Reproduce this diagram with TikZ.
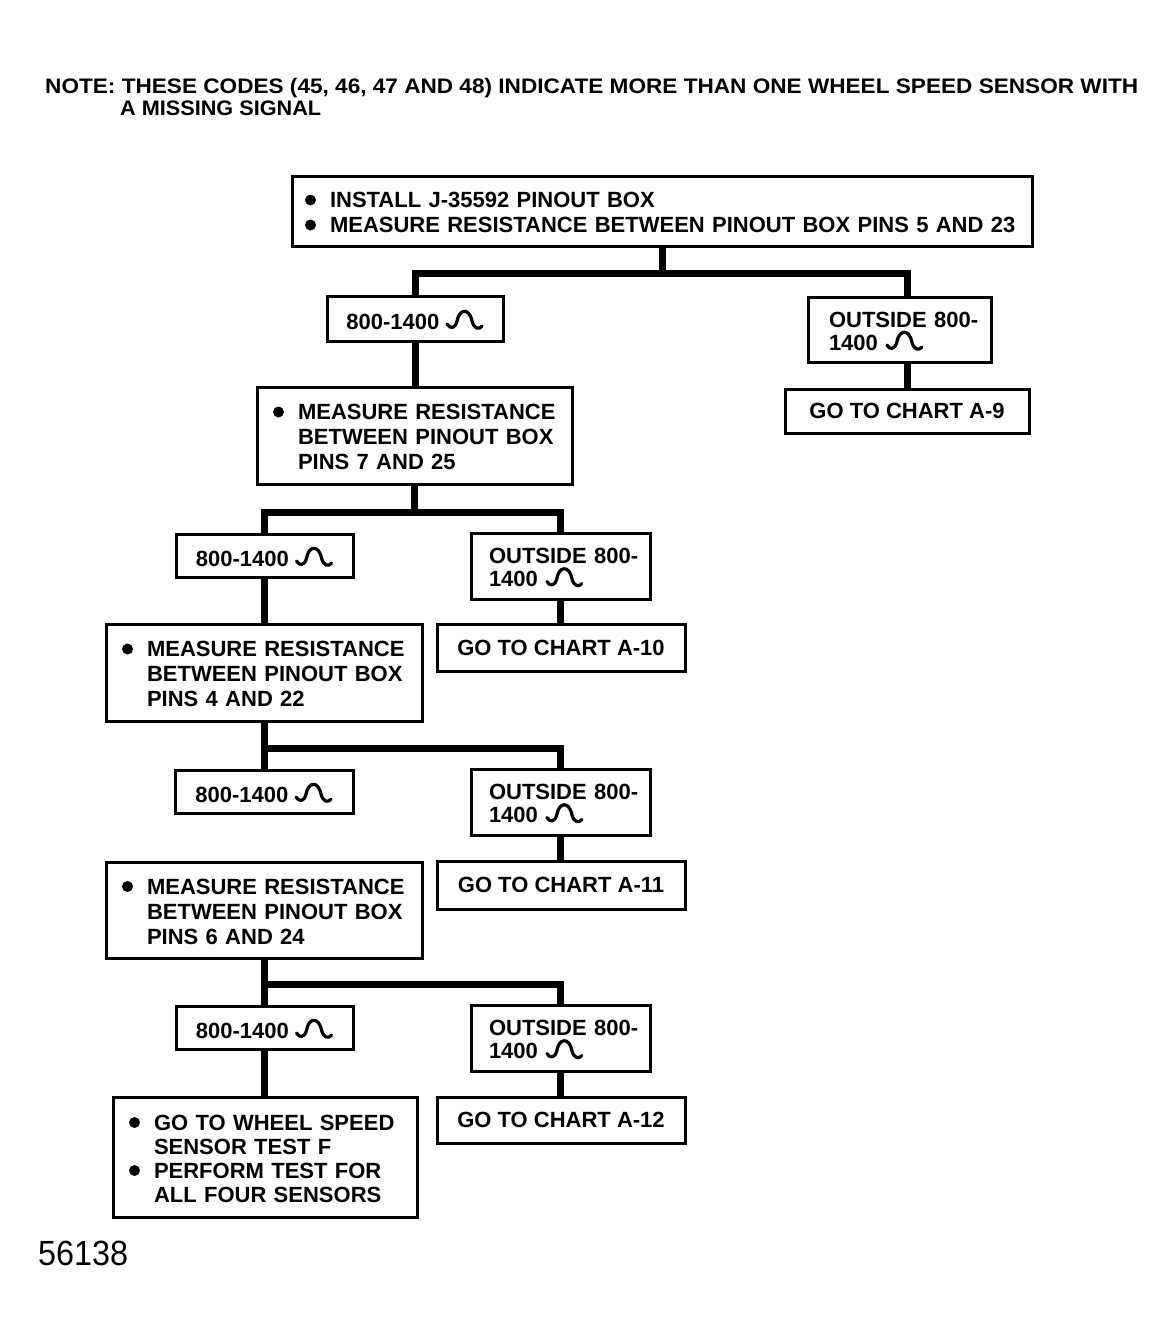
\documentclass[tikz,border=0pt]{standalone}
\usepackage{fontspec}
\setmainfont{Liberation Sans}
\usepackage{graphicx}
\newcommand\ohmwave{\smash{\tikz[baseline=0pt,x=1pt,y=1pt,line width=3.2pt,line cap=round,line join=round]\draw (0,5) .. controls (3,0) and (8,0) .. (10,8) .. controls (12,20) and (22,22) .. (25,8) .. controls (27,0) and (32,-1) .. (35,3);}}
\newcommand\bul{\tikz[baseline=0pt,x=1pt,y=1pt]\fill (5.5,7.5) circle[radius=5.5pt];}
\newcommand\dn[2][-4pt]{\raisebox{#1}[\height][\depth]{#2}}
\tikzset{
  box/.style={draw, line width=3pt, rectangle, inner sep=0pt, font=\fontsize{22}{25}\selectfont\bfseries},
  conn/.style={line width=7pt, line cap=butt, line join=miter},
  notefont/.style={font=\fontsize{21}{25}\selectfont\bfseries, inner sep=0pt},
}
\begin{document}
\begin{tikzpicture}[x=1pt,y=-1pt]
\useasboundingbox (0,0) rectangle (1175,1341);
\fill[white] (0,0) rectangle (1175,1341);
% note
\node[notefont, anchor=base west] (n1) at (45,93) {\resizebox{1093pt}{\height}{NOTE: THESE CODES (45, 46, 47 AND 48) INDICATE MORE THAN ONE WHEEL SPEED SENSOR WITH}};
\node[notefont, anchor=base west] (n2) at (120,115) {\resizebox{201pt}{\height}{A MISSING SIGNAL}};
% top
\node[box, minimum width=740pt, minimum height=70pt, text width=714pt, align=left] (top) at (662,211)
 {\dn{\begin{tabular}{@{}l@{\hspace{14pt}}l@{}}\bul & INSTALL J-35592 PINOUT BOX\\ \bul & MEASURE RESISTANCE BETWEEN PINOUT BOX PINS 5 AND 23\end{tabular}}};
\node[box, minimum width=176pt, minimum height=45pt] (b1) at (415,318.5) {\dn[-3pt]{800-1400 \ohmwave}};
\node[box, minimum width=183pt, minimum height=65pt, text width=141pt, align=left] (o1) at (899.5,329.5)
 {\dn{\begin{tabular}{@{}l@{}}OUTSIDE 800-\\[-2pt] 1400 \ohmwave\end{tabular}}};
\node[box, minimum width=244pt, minimum height=44pt] (g1) at (907,411) {GO TO CHART A-9};
\node[box, minimum width=315pt, minimum height=97pt, text width=283pt, align=left] (m1) at (414.5,435.5)
 {\dn{\begin{tabular}{@{}l@{\hspace{14pt}}l@{}}\bul & MEASURE RESISTANCE\\ & BETWEEN PINOUT BOX\\ & PINS 7 AND 25\end{tabular}}};
% level 2
\node[box, minimum width=177pt, minimum height=43pt] (b2) at (264.5,555.5) {\dn[-3pt]{800-1400 \ohmwave}};
\node[box, minimum width=179pt, minimum height=66pt, text width=143pt, align=left] (o2) at (560.5,566)
 {\dn{\begin{tabular}{@{}l@{}}OUTSIDE 800-\\[-2pt] 1400 \ohmwave\end{tabular}}};
\node[box, minimum width=248pt, minimum height=47pt] (g2) at (561,647.5) {GO TO CHART A-10};
\node[box, minimum width=316pt, minimum height=97pt, text width=284pt, align=left] (m2) at (264,672.5)
 {\dn{\begin{tabular}{@{}l@{\hspace{14pt}}l@{}}\bul & MEASURE RESISTANCE\\ & BETWEEN PINOUT BOX\\ & PINS 4 AND 22\end{tabular}}};
% level 3
\node[box, minimum width=178pt, minimum height=43pt] (b3) at (264,791.5) {\dn[-3pt]{800-1400 \ohmwave}};
\node[box, minimum width=179pt, minimum height=66pt, text width=143pt, align=left] (o3) at (560.5,802)
 {\dn{\begin{tabular}{@{}l@{}}OUTSIDE 800-\\[-2pt] 1400 \ohmwave\end{tabular}}};
\node[box, minimum width=248pt, minimum height=48pt] (g3) at (561,885) {GO TO CHART A-11};
\node[box, minimum width=316pt, minimum height=96pt, text width=284pt, align=left] (m3) at (264,910)
 {\dn{\begin{tabular}{@{}l@{\hspace{14pt}}l@{}}\bul & MEASURE RESISTANCE\\ & BETWEEN PINOUT BOX\\ & PINS 6 AND 24\end{tabular}}};
% level 4
\node[box, minimum width=177pt, minimum height=43pt] (b4) at (264.5,1027.5) {\dn[-3pt]{800-1400 \ohmwave}};
\node[box, minimum width=179pt, minimum height=66pt, text width=143pt, align=left] (o4) at (560.5,1038)
 {\dn{\begin{tabular}{@{}l@{}}OUTSIDE 800-\\[-2pt] 1400 \ohmwave\end{tabular}}};
\node[box, minimum width=248pt, minimum height=46pt] (g4) at (561,1120) {GO TO CHART A-12};
\node[box, minimum width=304pt, minimum height=120pt, text width=272pt, align=left] (f) at (265,1157)
 {\dn{\begin{tabular}{@{}l@{\hspace{14pt}}l@{}}\bul & GO TO WHEEL SPEED\\[-1pt] & SENSOR TEST F\\[-1pt] \bul & PERFORM TEST FOR\\[-1pt] & ALL FOUR SENSORS\end{tabular}}};
% figure number
\node[font=\fontsize{35}{40}\selectfont, inner sep=0pt, anchor=base west] (fig) at (38,1265) {\resizebox{90pt}{\height}{56138}};
% connectors
\draw[conn] (top.south) -- ++(0,26) coordinate (j1);
\draw[conn] (b1.north) |- (g1.north |- j1) -- (g1.north |- o1.north);
\draw[conn] (b1.south) -- (b1.south |- m1.north);
\draw[conn] (g1.north |- o1.south) -- (g1.north);
\draw[conn] (m1.south) -- ++(0,27) coordinate (j2);
\draw[conn] (b2.north) |- (o2.north |- j2) -- (o2.north);
\draw[conn] (b2.south) -- (b2.south |- m2.north);
\draw[conn] (o2.south) -- (o2.south |- g2.north);
\draw[conn] (m2.south) -- (m2.south |- b3.north);
\path (m2.south) ++(0,26) coordinate (j3);
\draw[conn] (j3) -| (o3.north);
\draw[conn] (o3.south) -- (o3.south |- g3.north);
\draw[conn] (m3.south) -- (m3.south |- b4.north);
\path (m3.south) ++(0,25) coordinate (j4);
\draw[conn] (j4) -| (o4.north);
\draw[conn] (o4.south) -- (o4.south |- g4.north);
\draw[conn] (b4.south) -- (b4.south |- f.north);
\end{tikzpicture}
\end{document}
